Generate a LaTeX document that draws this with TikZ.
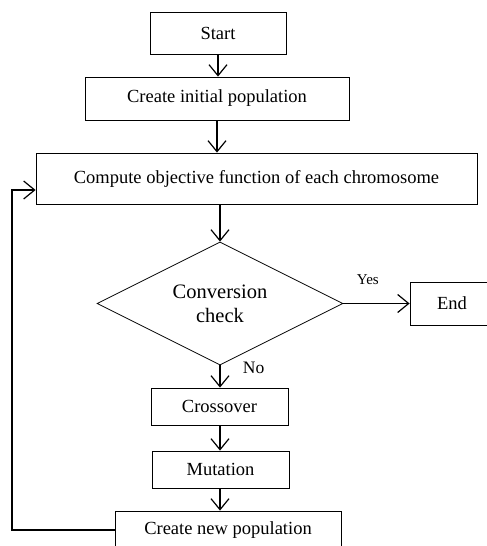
\documentclass[tikz,border=0pt]{standalone}
\usepackage{fontspec}
\setmainfont{Liberation Serif}
\usetikzlibrary{positioning}
\usetikzlibrary{calc}
\usetikzlibrary{arrows.meta}
\usetikzlibrary{shapes.geometric}

\begin{document}
\begin{tikzpicture}[x=1pt, y=-1pt,
            box/.style={draw, line width=0.8pt, inner sep=0pt, font=\fontsize{18.5}{22}\selectfont},
            cond/.style={draw, diamond, aspect=2, line width=0.8pt, inner sep=0pt, align=center,
                minimum width=246pt, minimum height=123pt, font=\fontsize{20.5}{24}\selectfont},
            arr/.style={line width=1.2pt, -{Straight Barb[length=11pt, width=18pt, line width=1.2pt]}}]
            \useasboundingbox (0,0) rectangle (487,546);

            \node[box, minimum width=136pt, minimum height=42pt] (start) at (218,33) {Start};
            \node[box, minimum width=264pt, minimum height=43pt] (init) at (217,98.5) {Create initial population};
            \node[box, minimum width=441pt, minimum height=51pt] (compute) at (256.5,178.5) {Compute objective function of each chromosome};
            \node[cond] (check) at (220,303.5) {Conversion\\check};
            \node[box, minimum width=84pt, minimum height=43pt] (end) at (452,303.5) {End};
            \node[box, minimum width=137pt, minimum height=37pt] (cross) at (219.5,406.5) {Crossover};
            \node[box, minimum width=137pt, minimum height=37pt] (mut) at (220.5,469.5) {Mutation};
            \node[box, minimum width=226pt, minimum height=38pt] (newpop) at (228,530) {Create new population};
            \coordinate (loop) at (12,190);

            \draw[arr] (start) -- (start |- init.north);
            \draw[arr] (init) -- (init |- compute.north);
            \draw[arr] (check.north |- compute.south) -- (check.north);
            \draw[arr] (check.east) -- (end.west) node[pos=0.37, above=15pt, font=\fontsize{15}{18}\selectfont] (yes) {Yes};
            \draw[arr] (check.south) -- (check.south |- cross.north) node[pos=0.1, right=19pt, font=\fontsize{17.5}{20}\selectfont] (no) {No};
            \draw[arr] (check.south |- cross.south) -- (check.south |- mut.north);
            \draw[arr] (check.south |- mut.south) -- (check.south |- newpop.north);
            \draw[arr] (newpop.west) -| (loop) -- (loop -| compute.west);
        \end{tikzpicture}
\end{document}
